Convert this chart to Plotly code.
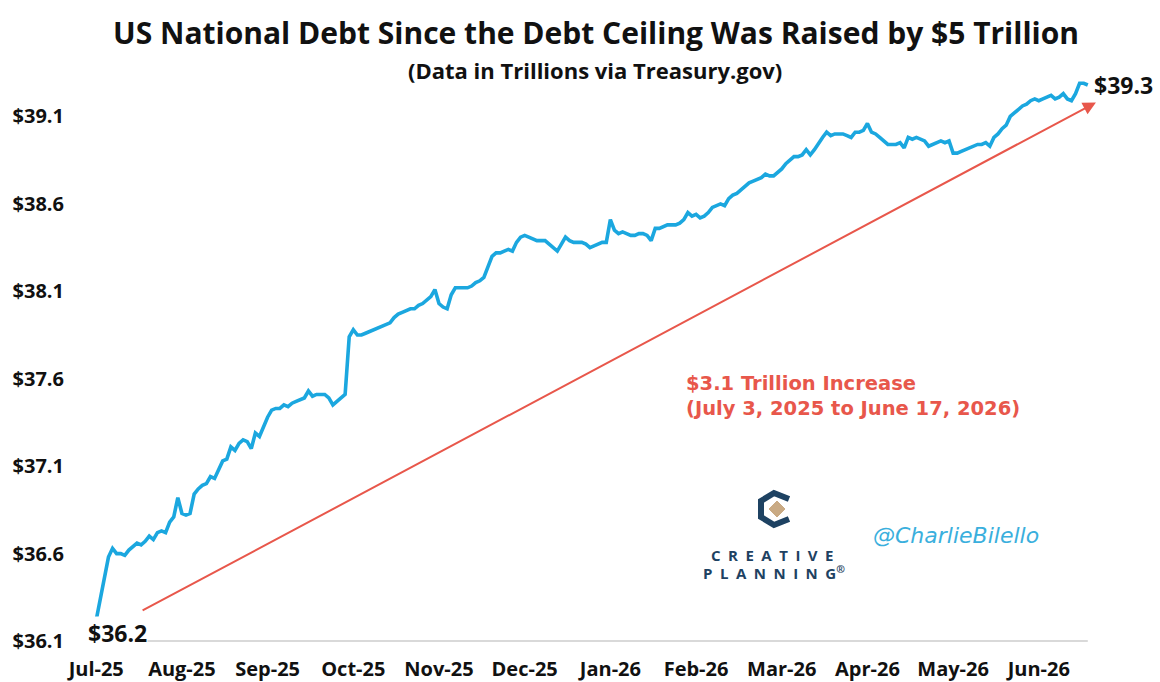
import plotly.graph_objects as go

# Total public debt outstanding, trillions of dollars, one value per trading day
# (July 3, 2025 through June 17, 2026)
debt_trillions = [
    36.22, 36.34, 36.46, 36.58, 36.63, 36.60, 36.60, 36.59, 36.62, 36.64,
    36.66, 36.65, 36.67, 36.70, 36.68, 36.72, 36.73, 36.72, 36.78, 36.81,
    36.92, 36.83, 36.82, 36.83, 36.94, 36.97, 36.99, 37.00, 37.04, 37.03,
    37.08, 37.13, 37.14, 37.21, 37.19, 37.23, 37.25, 37.24, 37.20, 37.29,
    37.27, 37.33, 37.38, 37.42, 37.43, 37.43, 37.45, 37.44, 37.46, 37.47,
    37.48, 37.49, 37.53, 37.50, 37.51, 37.51, 37.51, 37.49, 37.45, 37.47,
    37.49, 37.51, 37.84, 37.88, 37.85, 37.85, 37.86, 37.87, 37.88, 37.89,
    37.90, 37.91, 37.92, 37.95, 37.97, 37.98, 37.99, 38.00, 38.00, 38.02,
    38.03, 38.05, 38.07, 38.11, 38.03, 38.01, 38.00, 38.08, 38.12, 38.12,
    38.12, 38.12, 38.13, 38.15, 38.16, 38.18, 38.24, 38.30, 38.32, 38.32,
    38.33, 38.34, 38.33, 38.38, 38.41, 38.42, 38.41, 38.40, 38.39, 38.39,
    38.39, 38.37, 38.35, 38.33, 38.37, 38.41, 38.39, 38.38, 38.38, 38.38,
    38.37, 38.35, 38.36, 38.37, 38.38, 38.38, 38.51, 38.45, 38.43, 38.44,
    38.43, 38.42, 38.42, 38.43, 38.43, 38.42, 38.39, 38.46, 38.46, 38.47,
    38.48, 38.48, 38.48, 38.49, 38.51, 38.55, 38.53, 38.54, 38.52, 38.53,
    38.55, 38.58, 38.59, 38.60, 38.59, 38.63, 38.65, 38.66, 38.68, 38.70,
    38.72, 38.73, 38.74, 38.75, 38.77, 38.76, 38.76, 38.78, 38.80, 38.83,
    38.85, 38.87, 38.87, 38.88, 38.91, 38.88, 38.91, 38.95, 38.98, 39.01,
    38.99, 39.00, 39.00, 39.00, 38.99, 38.98, 39.01, 39.01, 39.02, 39.06,
    39.01, 39.00, 38.98, 38.96, 38.94, 38.94, 38.94, 38.95, 38.92, 38.98,
    38.97, 38.98, 38.97, 38.96, 38.93, 38.94, 38.95, 38.96, 38.95, 38.96,
    38.89, 38.89, 38.90, 38.91, 38.92, 38.93, 38.94, 38.94, 38.95, 38.93,
    38.98, 39.00, 39.03, 39.05, 39.10, 39.12, 39.14, 39.16, 39.17, 39.19,
    39.20, 39.19, 39.20, 39.21, 39.22, 39.20, 39.21, 39.23, 39.20, 39.19,
    39.23, 39.29, 39.29, 39.28,
]

# Month labels, one every 21 trading days
month_labels = ["Jul-25", "Aug-25", "Sep-25", "Oct-25", "Nov-25", "Dec-25",
                "Jan-26", "Feb-26", "Mar-26", "Apr-26", "May-26", "Jun-26"]
label_step = 21

y_tick_values = [36.1, 36.6, 37.1, 37.6, 38.1, 38.6, 39.1]

increase_text = "$3.1 Trillion Increase<br>(July 3, 2025 to June 17, 2026)"

# ---- layout geometry (pixels) ----
W, H = 1160, 682
ML, MR, MT, MB = 95, 71, 64, 41
PW, PH = W - ML - MR, H - MT - MB


def px_x(x):
    return (x - ML) / PW


def px_y(y):
    return (H - MB - y) / PH


BLUE = "#1BA7DF"
RED = "#E8574B"
NAVY = "#1E4262"
TAN = "#C9AA84"
BODY_FONT = "Open Sans"
EN = "\u2002"

n = len(debt_trillions)
day_index = list(range(n))

fig = go.Figure()
fig.add_trace(go.Scatter(
    x=day_index, y=debt_trillions, mode="lines",
    line=dict(color=BLUE, width=3.6),
    hoverinfo="skip", showlegend=False,
))

annotations = [
    dict(text="US National Debt Since the Debt Ceiling Was Raised by $5 Trillion",
         xref="paper", yref="paper", x=px_x(596), y=px_y(32),
         xanchor="center", yanchor="middle", showarrow=False,
         font=dict(family=BODY_FONT, size=30, color="#111111", weight="bold")),
    dict(text="(Data in Trillions via Treasury.gov)",
         xref="paper", yref="paper", x=px_x(595), y=px_y(70),
         xanchor="center", yanchor="middle", showarrow=False,
         font=dict(family=BODY_FONT, size=22, color="#111111", weight="bold")),
    # start and end values
    dict(text=f"${debt_trillions[0]:.1f}", x=0, y=debt_trillions[0],
         xanchor="left", yanchor="middle", xshift=-9, yshift=-13, showarrow=False,
         bgcolor="white", borderpad=0,
         font=dict(family=BODY_FONT, size=23, color="#111111", weight="bold")),
    dict(text=f"${debt_trillions[-1]:.1f}", x=n - 1, y=debt_trillions[-1],
         xanchor="left", yanchor="middle", xshift=4, showarrow=False,
         font=dict(family=BODY_FONT, size=23, color="#111111", weight="bold")),
    # trend arrow from the starting level to the ending level
    dict(text="", x=n + 1, y=debt_trillions[-1] - 0.10,
         ax=11, ay=debt_trillions[0] + 0.05, axref="x", ayref="y",
         showarrow=True, arrowhead=2, arrowsize=1.3, arrowwidth=2, arrowcolor=RED),
    dict(text=increase_text, xref="paper", yref="paper",
         x=px_x(684), y=px_y(396), xanchor="left", yanchor="middle", align="left",
         showarrow=False,
         font=dict(family="DejaVu Sans", size=19.5, color=RED, weight="bold")),
    # branding
    dict(text=EN.join("CREATIVE"), xref="paper", yref="paper",
         x=px_x(772), y=px_y(555), xanchor="center", yanchor="middle", showarrow=False,
         font=dict(family=BODY_FONT, size=15, color=NAVY, weight="bold")),
    dict(text=EN.join("PLANNING") + "<sup>®</sup>", xref="paper", yref="paper",
         x=px_x(774), y=px_y(572), xanchor="center", yanchor="middle", showarrow=False,
         font=dict(family=BODY_FONT, size=15, color=NAVY, weight="bold")),
    dict(text="@CharlieBilello", xref="paper", yref="paper",
         x=px_x(956), y=px_y(535), xanchor="center", yanchor="middle", showarrow=False,
         font=dict(family="DejaVu Sans", size=22, color="#3AAFDD", style="italic")),
]


def path(points, close=False):
    d = "M " + " L ".join(f"{px_x(x):.5f},{px_y(y):.5f}" for x, y in points)
    return d + (" Z" if close else "")


shapes = [
    # baseline along the category axis
    dict(type="line", xref="x", yref="paper", x0=0, x1=n - 1, y0=0, y1=0,
         line=dict(color="#D9D9D9", width=2), layer="below"),
    # logo mark: open hexagonal "C" with a diamond inside
    dict(type="path", xref="paper", yref="paper",
         path=path([(789, 499), (774, 493), (761, 501), (761, 517), (774, 525), (789, 519)]),
         line=dict(color=NAVY, width=6)),
    dict(type="path", xref="paper", yref="paper",
         path=path([(777, 501), (785, 509), (777, 517), (769, 509)], close=True),
         fillcolor=TAN, line=dict(color=TAN, width=1)),
]

fig.update_layout(
    width=W, height=H,
    margin=dict(l=ML, r=MR, t=MT, b=MB, pad=0, autoexpand=False),
    paper_bgcolor="white", plot_bgcolor="white",
    annotations=annotations, shapes=shapes,
    xaxis=dict(
        range=[-0.3, n - 0.7],
        tickmode="array",
        tickvals=[i * label_step for i in range(len(month_labels))],
        ticktext=month_labels,
        showgrid=False, zeroline=False, showline=False, ticks="",
        automargin=False,
        ticklabelstandoff=14,
        tickfont=dict(family=BODY_FONT, size=20, color="#111111", weight="bold"),
    ),
    yaxis=dict(
        range=[36.1, 39.4],
        tickmode="array",
        tickvals=y_tick_values,
        ticktext=[f"${v:.1f}" for v in y_tick_values],
        showgrid=False, zeroline=False, showline=False, ticks="",
        automargin=False,
        ticklabelstandoff=30,
        tickfont=dict(family=BODY_FONT, size=20, color="#111111", weight="bold"),
    ),
)

fig.write_html("out.html")
